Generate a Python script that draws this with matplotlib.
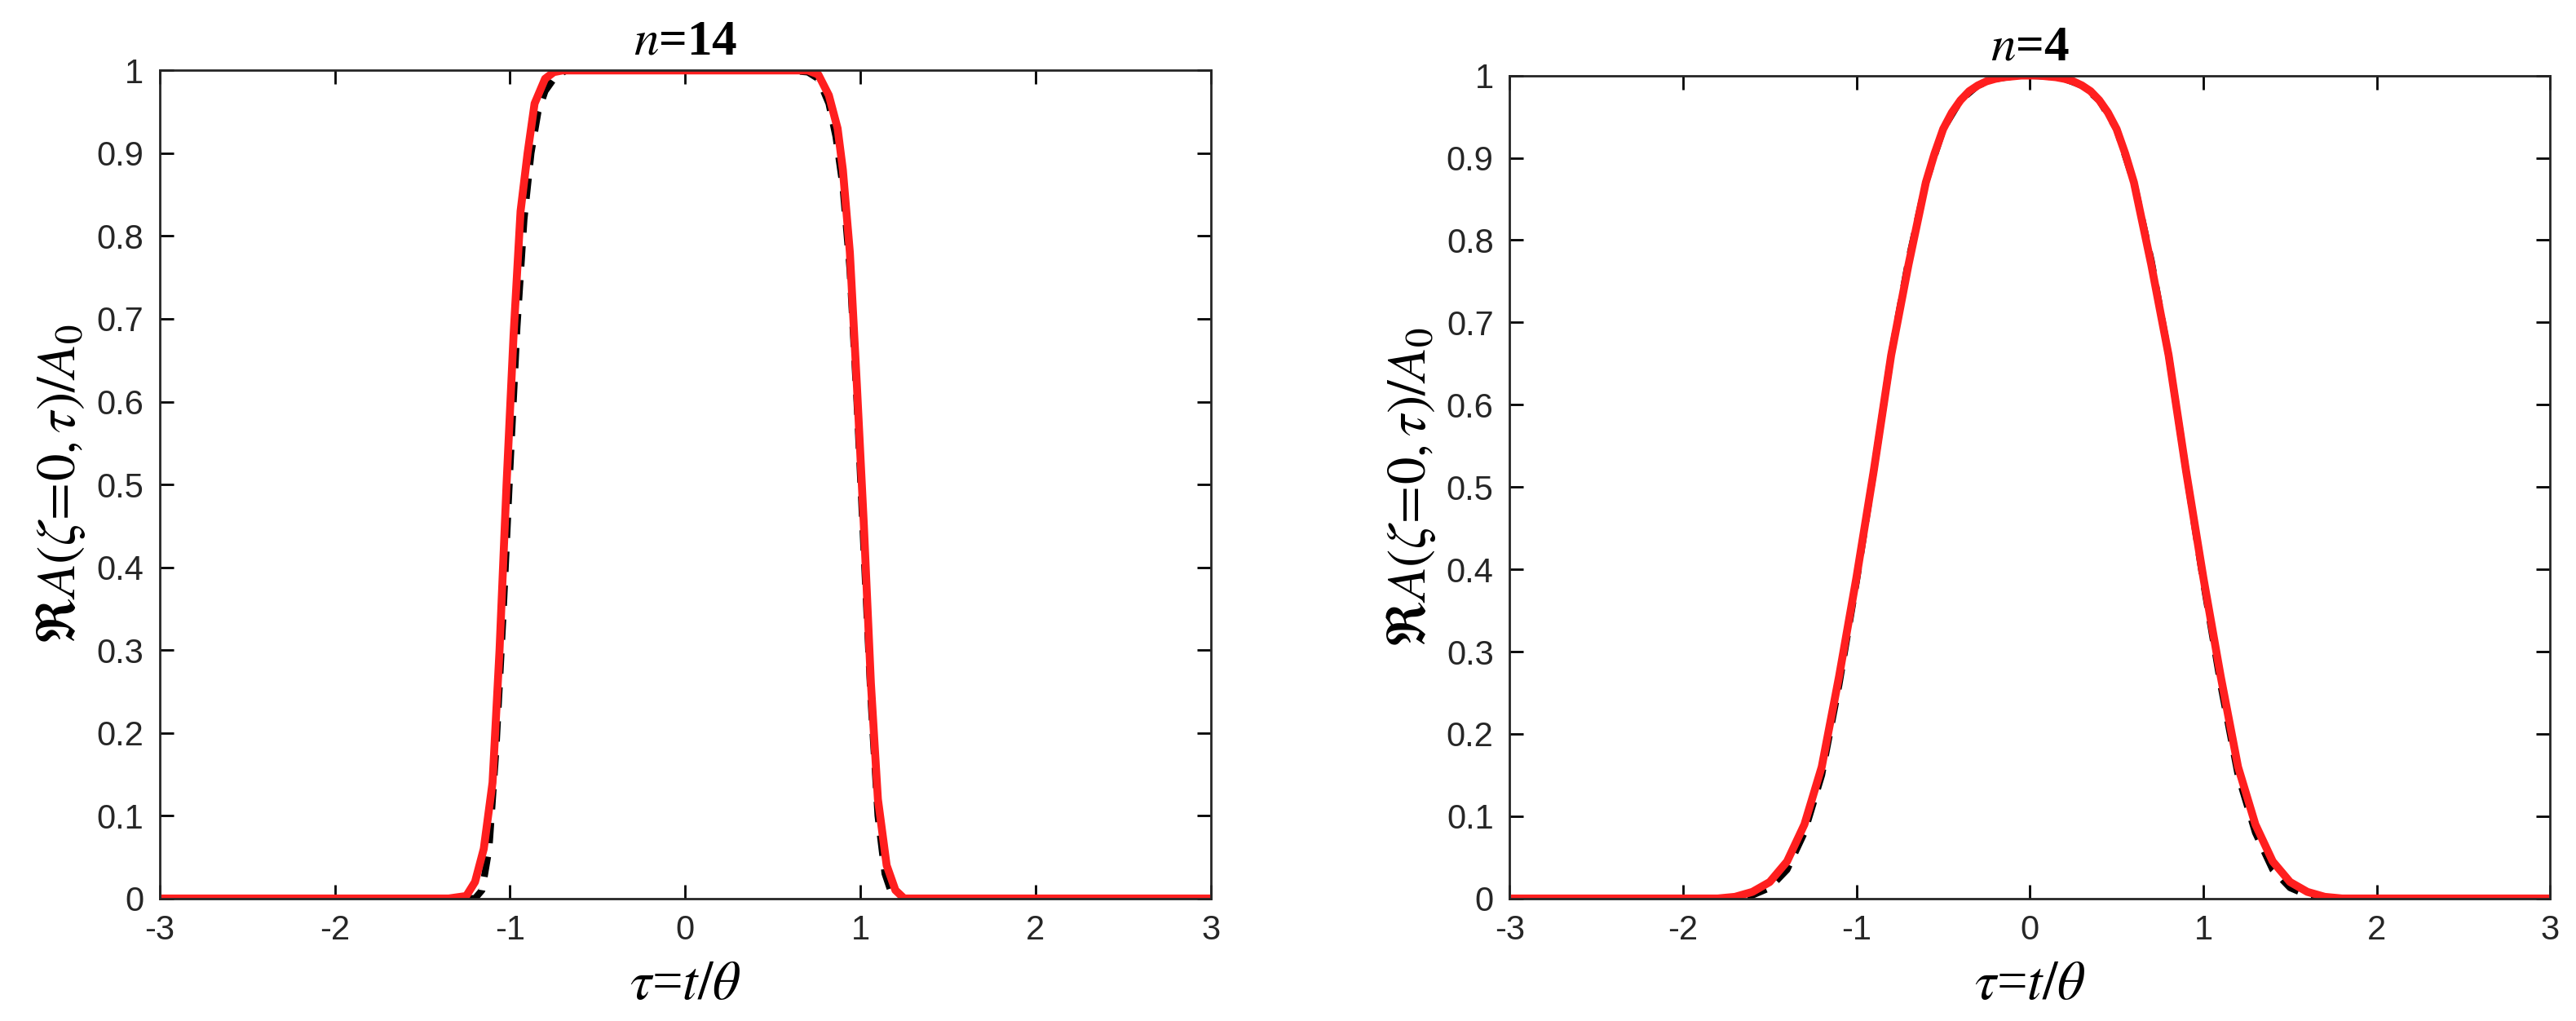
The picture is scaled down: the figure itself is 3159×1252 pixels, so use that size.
import numpy as np
from matplotlib import pyplot as plt

plt.rcParams['mathtext.fontset'] = 'stix'
plt.rcParams['font.family'] = ['Liberation Sans', 'DejaVu Sans']

# n=14 panel, values
tau14_red = [-3.0, -1.35, -1.25, -1.2, -1.15, -1.1, -1.06, -1.02, -0.98, -0.94, -0.9, -0.86, -0.8, -0.75, -0.7, -0.6,
             0.0, 0.6, 0.7, 0.76, 0.82, 0.87, 0.9, 0.94, 0.98, 1.02, 1.06, 1.1, 1.15, 1.2, 1.25, 1.35, 3.0]
amp14_red = [0.0, 0.0, 0.003, 0.02, 0.06, 0.14, 0.3, 0.5, 0.68, 0.83, 0.9, 0.96, 0.99, 0.998, 1.0, 1.0,
             1.0, 1.0, 1.0, 0.995, 0.97, 0.93, 0.88, 0.78, 0.62, 0.45, 0.26, 0.12, 0.04, 0.01, 0.0, 0.0, 0.0]
tau14_blk = [-3.0, -1.2, -1.16, -1.12, -1.08, -1.04, -1.0, -0.96, -0.92, -0.88, -0.84, -0.8, -0.74, -0.68, -0.6,
             0.0, 0.6, 0.7, 0.76, 0.82, 0.86, 0.9, 0.94, 0.98, 1.02, 1.06, 1.1, 1.14, 1.18, 1.22, 3.0]
amp14_blk = [0.0, 0.0, 0.01, 0.06, 0.18, 0.34, 0.52, 0.69, 0.82, 0.9, 0.95, 0.975, 0.993, 1.0, 1.0,
             1.0, 1.0, 0.998, 0.99, 0.96, 0.92, 0.86, 0.76, 0.6, 0.42, 0.24, 0.1, 0.03, 0.005, 0.0, 0.0]

# n=4 panel
tau4_red = [-3.0, -1.8, -1.7, -1.6, -1.5, -1.4, -1.3, -1.2, -1.1, -1.0, -0.9, -0.8, -0.7, -0.6, -0.55, -0.5, -0.45, -0.4, -0.35,
            -0.3, -0.25, -0.2, -0.15, -0.1, -0.05, 0.0,
            0.05, 0.1, 0.15, 0.2, 0.25, 0.3, 0.35, 0.4, 0.45, 0.5, 0.55, 0.6, 0.7, 0.8, 0.9, 1.0, 1.1, 1.2, 1.3, 1.4, 1.5, 1.6, 1.7, 1.8, 3.0]
amp4_red = [0.0, 0.0, 0.002, 0.008, 0.02, 0.045, 0.09, 0.16, 0.27, 0.39, 0.52, 0.66, 0.77, 0.87, 0.905, 0.935, 0.955, 0.97, 0.981,
            0.988, 0.993, 0.996, 0.998, 0.999, 1.0, 1.0,
            1.0, 0.999, 0.998, 0.996, 0.993, 0.988, 0.981, 0.97, 0.955, 0.935, 0.905, 0.87, 0.77, 0.66, 0.52, 0.39, 0.27, 0.16, 0.09, 0.045, 0.02, 0.008, 0.002, 0.0, 0.0]
tau4_blk = [-3.0, -1.7, -1.6, -1.5, -1.4, -1.3, -1.2, -1.1, -1.0, -0.9, -0.8, -0.7, -0.6, -0.5, -0.4, -0.3, -0.2, -0.1, 0.0,
            0.1, 0.2, 0.3, 0.4, 0.5, 0.6, 0.7, 0.8, 0.9, 1.0, 1.1, 1.2, 1.3, 1.4, 1.5, 1.6, 1.7, 3.0]
amp4_blk = [0.0, 0.0, 0.004, 0.013, 0.035, 0.08, 0.15, 0.26, 0.385, 0.52, 0.66, 0.775, 0.87, 0.935, 0.97, 0.988, 0.996, 0.999, 1.0,
            0.999, 0.996, 0.988, 0.97, 0.935, 0.87, 0.775, 0.66, 0.52, 0.385, 0.26, 0.15, 0.08, 0.035, 0.013, 0.004, 0.0, 0.0]

xticks = [-3, -2, -1, 0, 1, 2, 3]
yticks = [0, 0.1, 0.2, 0.3, 0.4, 0.5, 0.6, 0.7, 0.8, 0.9, 1]
ylabels = ['0', '0.1', '0.2', '0.3', '0.4', '0.5', '0.6', '0.7', '0.8', '0.9', '1']

fig = plt.figure(figsize=(31.59, 12.52), dpi=100)
ax1 = fig.add_axes([0.062, 0.12, 0.408, 0.811])
ax2 = fig.add_axes([0.586, 0.12, 0.404, 0.806])

panels = [(ax1, tau14_blk, amp14_blk, tau14_red, amp14_red, r'$\mathit{n}$=14'),
          (ax2, tau4_blk, amp4_blk, tau4_red, amp4_red, r'$\mathit{n}$=4')]

for ax, tb, ab, tr, ar, title in panels:
    ax.plot(tb, ab, color='black', lw=6, ls=(0, (3, 2)))
    ax.plot(tr, ar, color='#ff1f1f', lw=7, solid_joinstyle='round')
    ax.set_xlim(-3, 3)
    ax.set_ylim(0, 1)
    ax.set_xticks(xticks)
    ax.set_xticklabels([str(t) for t in xticks])
    ax.set_yticks(yticks)
    ax.set_yticklabels(ylabels)
    ax.tick_params(direction='in', length=12, width=2, top=True, right=True,
                   labelsize=30, labelcolor='#262626', pad=14)
    for s in ax.spines.values():
        s.set_linewidth(2)
        s.set_color('#262626')
    ax.set_xlabel(r'$\tau$=$t/\theta$', fontsize=48, family='Liberation Serif', labelpad=12)
    ax.set_ylabel(r'$\Re A(\zeta\!=\!0,\tau)/A_0$', fontsize=48, labelpad=8)
    ax.set_title(title, fontsize=44, fontweight='bold', family='Liberation Serif', pad=14)

fig.savefig('out.png')
